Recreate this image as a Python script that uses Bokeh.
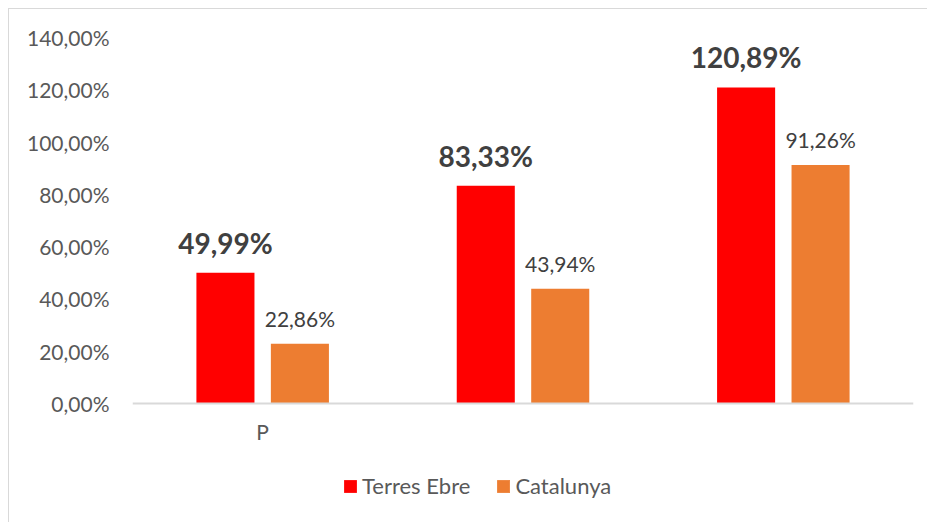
from bokeh.plotting import figure
from bokeh.models import (ColumnDataSource, FactorRange, Range1d, FixedTicker,
                          Legend, LegendItem)
from bokeh.transform import dodge
from bokeh.core.properties import value
from bokeh.embed import file_html
from bokeh.resources import INLINE

# ---- data ----
categories = ["P", " ", "  "]
series_names = ["Terres Ebre", "Catalunya"]
terres_ebre = [0.4999, 0.8333, 1.2089]
catalunya = [0.2286, 0.4394, 0.9126]
y_ticks = [0.0, 0.2, 0.4, 0.6, 0.8, 1.0, 1.2, 1.4]
y_tick_labels = ["0,00%", "20,00%", "40,00%", "60,00%", "80,00%",
                 "100,00%", "120,00%", "140,00%"]


def fmt(v):
    return f"{v * 100:.2f}".replace(".", ",") + "%"


src = ColumnDataSource(dict(
    cat=categories,
    te=terres_ebre,
    ca=catalunya,
    te_lbl=[fmt(v) for v in terres_ebre],
    ca_lbl=[fmt(v) for v in catalunya],
))

FONT = "Lato"
RED = "#FF0000"
ORANGE = "#ED7D31"

p = figure(
    width=919, height=514,
    x_range=FactorRange(*categories, range_padding=0),
    y_range=Range1d(-0.459, 1.4),
    output_backend="svg", toolbar_location=None,
    min_border_left=123, min_border_right=15,
    min_border_top=28, min_border_bottom=0,
)
p.styles = {"margin-left": "8px", "margin-top": "8px",
            "border-left": "1px solid #d9d9d9", "border-top": "1px solid #d9d9d9"}
p.background_fill_color = "white"
p.border_fill_color = "white"
p.outline_line_color = None
p.xgrid.visible = False
p.ygrid.visible = False

BW = 0.223
OFF = 0.143

r_te = p.vbar(x=dodge("cat", -OFF, range=p.x_range), top="te", width=BW,
              source=src, fill_color=RED, line_color=None)
r_ca = p.vbar(x=dodge("cat", OFF, range=p.x_range), top="ca", width=BW,
              source=src, fill_color=ORANGE, line_color=None)

p.text(x=dodge("cat", -OFF, range=p.x_range), y="te", text="te_lbl", source=src,
       text_font=value(FONT), text_font_size="28px", text_font_style="bold",
       text_color="#404040", text_align="center", text_baseline="middle",
       y_offset=-30)
p.text(x=dodge("cat", OFF, range=p.x_range), y="ca", text="ca_lbl", source=src,
       text_font=value(FONT), text_font_size="21px",
       text_color="#404040", text_align="center", text_baseline="middle",
       y_offset=-25)

# y axis
ya = p.yaxis[0]
ya.ticker = FixedTicker(ticks=y_ticks)
ya.major_label_overrides = {t: l for t, l in zip(y_ticks, y_tick_labels)}
ya.axis_line_color = None
ya.major_tick_line_color = None
ya.minor_tick_line_color = None
ya.major_label_text_font = FONT
ya.major_label_text_font_size = "21px"
ya.major_label_text_color = "#595959"
ya.major_label_standoff = 17

# x axis, drawn at y = 0 inside the frame
xa = p.xaxis[0]
xa.fixed_location = 0
xa.axis_line_color = "#d9d9d9"
xa.axis_line_width = 2
xa.major_tick_line_color = None
xa.minor_tick_line_color = None
xa.major_label_text_font = FONT
xa.major_label_text_font_size = "21px"
xa.major_label_text_color = "#595959"
xa.major_label_standoff = 9

legend = Legend(
    items=[LegendItem(label=series_names[0], renderers=[r_te]),
           LegendItem(label=series_names[1], renderers=[r_ca])],
    orientation="horizontal",
    location=(210, 24),
    glyph_width=16, glyph_height=16,
    label_standoff=4, spacing=25, padding=0, margin=0,
    label_text_font=FONT, label_text_font_size="22px",
    label_text_color="#595959",
    border_line_color=None, background_fill_alpha=0,
)
p.add_layout(legend, "center")

open("out.html", "w").write(file_html(p, INLINE))
